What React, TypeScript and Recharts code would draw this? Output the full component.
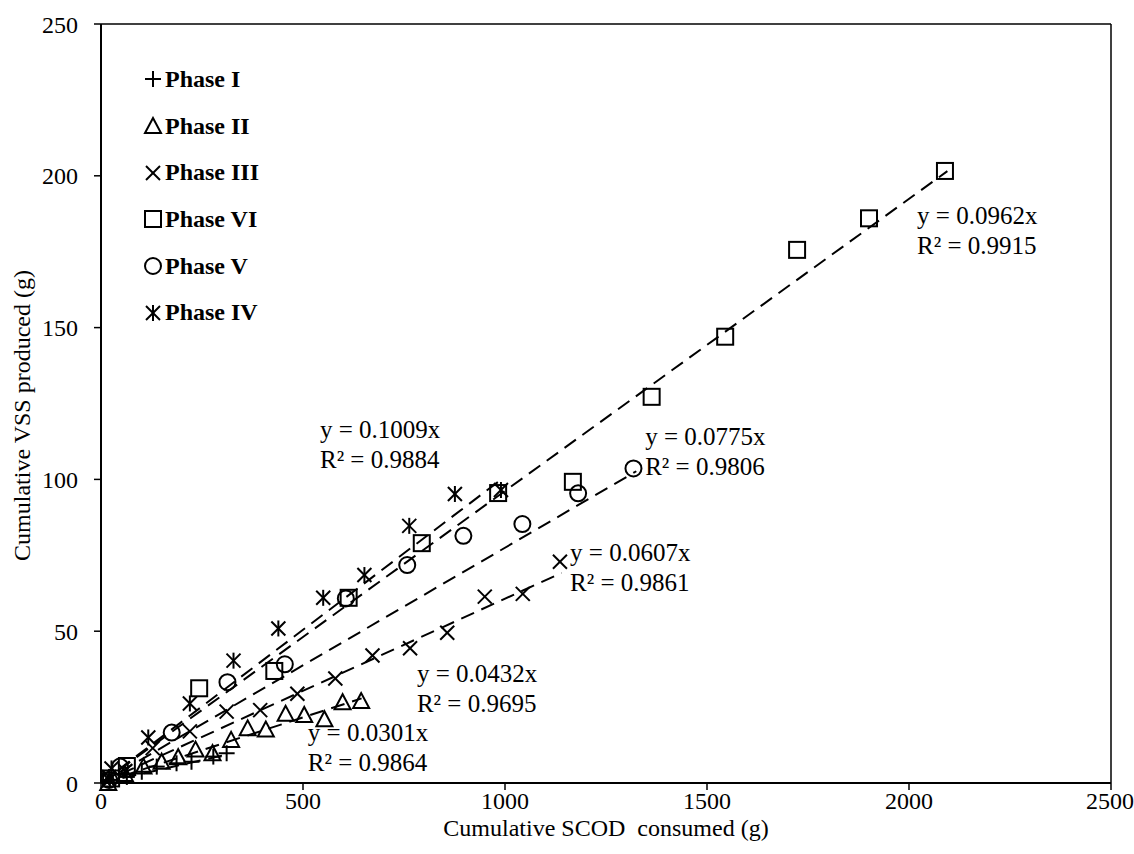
import React from "react";
import {
  ScatterChart,
  Scatter,
  XAxis,
  YAxis,
  ReferenceLine,
  ReferenceDot,
} from "recharts";

// cumulative SCOD consumed (g), cumulative VSS produced (g)
const phaseI = [
  [22, 1], [64, 2], [101, 3.7], [138, 5.4], [187, 6.5], [224, 7], [278, 8.7], [311, 9.8],
];
const phaseII = [
  [18, 0], [59, 3], [105, 5.4], [150, 7], [191, 8.5], [234, 11], [276, 9.8], [322, 14.2],
  [363, 18], [408, 17.6], [457, 22.8], [503, 22.4], [553, 21], [598, 26.6], [644, 27],
];
const phaseIII = [
  [20, 1], [60, 4], [128, 11.5], [220, 17], [311, 23.5], [394, 24], [486, 29.4], [580, 34.4],
  [672, 42], [765, 44.4], [857, 49.5], [950, 61.4], [1044, 62.3], [1136, 72.9],
];
const phaseVI = [
  [25, 1.5], [64, 5.6], [243, 31.2], [429, 36.9], [613, 61], [794, 79], [983, 95.5],
  [1168, 99.2], [1363, 127.2], [1545, 147], [1723, 175.6], [1901, 186], [2089, 201.6],
];
const phaseV = [
  [20, 1], [47, 5.4], [175, 16.6], [313, 33.2], [455, 39.1], [606, 60.8], [758, 71.8],
  [897, 81.4], [1043, 85.3], [1181, 95.4], [1318, 103.6],
];
const phaseIV = [
  [20, 2], [26, 4.8], [117, 15], [220, 26.2], [328, 40.3], [439, 50.9], [550, 61],
  [652, 68.5], [763, 84.7], [876, 95.2], [990, 96.5],
];

const names = ["Phase I", "Phase II", "Phase III", "Phase VI", "Phase V", "Phase IV"];
const slopes = [0.0301, 0.0432, 0.0607, 0.0962, 0.0775, 0.1009];
const r2 = [0.9864, 0.9695, 0.9861, 0.9915, 0.9806, 0.9884];
const trendEnd = [311, 645, 1140, 2095, 1325, 995];
// where each equation label sits (left edge, first line), in data units
const labelAt = [
  [512, 16.5], [782, 36.2], [1161, 76], [2020, 187], [1347, 114], [542, 116.3],
];

const xTicks = [0, 500, 1000, 1500, 2000, 2500];
const yTicks = [0, 50, 100, 150, 200, 250];

const FONT = "'Liberation Serif', 'Times New Roman', serif";
const toPts = (arr: number[][]) => arr.map(([x, y]) => ({ x, y }));

const mark = (kind: number, cx: number, cy: number, s = 8) => {
  const p = { stroke: "#000", strokeWidth: 2, fill: "none" };
  switch (kind) {
    case 0:
      return (
        <g {...p}>
          <line x1={cx - s} y1={cy} x2={cx + s} y2={cy} />
          <line x1={cx} y1={cy - s} x2={cx} y2={cy + s} />
        </g>
      );
    case 1:
      return <polygon {...p} points={`${cx},${cy - s} ${cx - s},${cy + s - 1} ${cx + s},${cy + s - 1}`} />;
    case 2:
      return (
        <g {...p}>
          <line x1={cx - s + 1} y1={cy - s + 1} x2={cx + s - 1} y2={cy + s - 1} />
          <line x1={cx - s + 1} y1={cy + s - 1} x2={cx + s - 1} y2={cy - s + 1} />
        </g>
      );
    case 3:
      return <rect {...p} x={cx - s} y={cy - s} width={2 * s} height={2 * s} />;
    case 4:
      return <circle {...p} cx={cx} cy={cy} r={s} />;
    default:
      return (
        <g {...p}>
          <line x1={cx - s + 1} y1={cy - s + 1} x2={cx + s - 1} y2={cy + s - 1} />
          <line x1={cx - s + 1} y1={cy + s - 1} x2={cx + s - 1} y2={cy - s + 1} />
          <line x1={cx} y1={cy - s} x2={cx} y2={cy + s} />
        </g>
      );
  }
};

const series = [phaseI, phaseII, phaseIII, phaseVI, phaseV, phaseIV];

const LegendBox = () => (
  <div
    style={{
      position: "absolute",
      left: 143,
      top: 56,
      fontFamily: FONT,
      fontWeight: "bold",
      fontSize: 24,
      pointerEvents: "none",
    }}
  >
    {names.map((n, i) => (
      <div key={n} style={{ display: "flex", alignItems: "center", height: 46.7 }}>
        <svg width={20} height={20} style={{ marginRight: 2 }}>
          {mark(i, 10, 10, 8)}
        </svg>
        <span>{n}</span>
      </div>
    ))}
  </div>
);

export default function App() {
  return (
    <div style={{ position: "absolute", left: 0, top: 0, width: 1134, height: 854, background: "#fff" }}>
      <ScatterChart
        width={1134}
        height={854}
        margin={{ top: 24, right: 23, bottom: 31, left: 41 }}
      >
        <XAxis
          type="number"
          dataKey="x"
          domain={[0, 2500]}
          ticks={xTicks}
          tickSize={7}
          tickMargin={2}
          height={40}
          axisLine={{ stroke: "#000", strokeWidth: 2 }}
          tickLine={{ stroke: "#000", strokeWidth: 1.5 }}
          tick={{ fill: "#000", fontSize: 24, fontFamily: FONT }}
          label={(props: any) => {
            const vb = props.viewBox;
            return (
              <text
                x={vb.x + vb.width / 2}
                y={828}
                textAnchor="middle"
                dominantBaseline="central"
                style={{ whiteSpace: "pre" }}
                fontSize={24}
                fontFamily={FONT}
                fill="#000"
              >
                {"Cumulative SCOD  consumed (g)"}
              </text>
            );
          }}
        />
        <YAxis
          type="number"
          dataKey="y"
          domain={[0, 250]}
          ticks={yTicks}
          tickSize={7}
          tickMargin={16}
          width={60}
          axisLine={{ stroke: "#000", strokeWidth: 2 }}
          tickLine={{ stroke: "#000", strokeWidth: 1.5 }}
          tick={{ fill: "#000", fontSize: 24, fontFamily: FONT }}
          label={(props: any) => {
            const vb = props.viewBox;
            const cy = vb.y + vb.height / 2 + 12;
            return (
              <text
                x={22}
                y={cy}
                transform={`rotate(-90 22 ${cy})`}
                textAnchor="middle"
                dominantBaseline="central"
                fontSize={24}
                fontFamily={FONT}
                fill="#000"
              >
                Cumulative VSS produced (g)
              </text>
            );
          }}
        />
        <ReferenceLine y={250} stroke="#000" strokeWidth={1.5} />
        <ReferenceLine x={2500} stroke="#000" strokeWidth={1.5} />
        {slopes.map((m, i) => (
          <ReferenceLine
            key={"t" + i}
            segment={[
              { x: 0, y: 0 },
              { x: trendEnd[i], y: m * trendEnd[i] },
            ]}
            stroke="#000"
            strokeWidth={2}
            strokeDasharray="14 8"
          />
        ))}
        {series.map((s, i) => (
          <Scatter
            key={names[i]}
            name={names[i]}
            data={toPts(s)}
            isAnimationActive={false}
            shape={(p: any) => mark(i, p.cx, p.cy)}
          />
        ))}
        {slopes.map((m, i) => (
          <ReferenceDot
            key={"l" + i}
            x={labelAt[i][0]}
            y={labelAt[i][1]}
            r={0}
            shape={(p: any) => (
              <g fontSize={25} fontFamily={FONT} fill="#000">
                <text x={p.cx} y={p.cy} dominantBaseline="central">
                  {`y = ${m.toFixed(4)}x`}
                </text>
                <text x={p.cx} y={p.cy + 30} dominantBaseline="central">
                  {`R² = ${r2[i].toFixed(4)}`}
                </text>
              </g>
            )}
          />
        ))}
      </ScatterChart>
      <LegendBox />
    </div>
  );
}
